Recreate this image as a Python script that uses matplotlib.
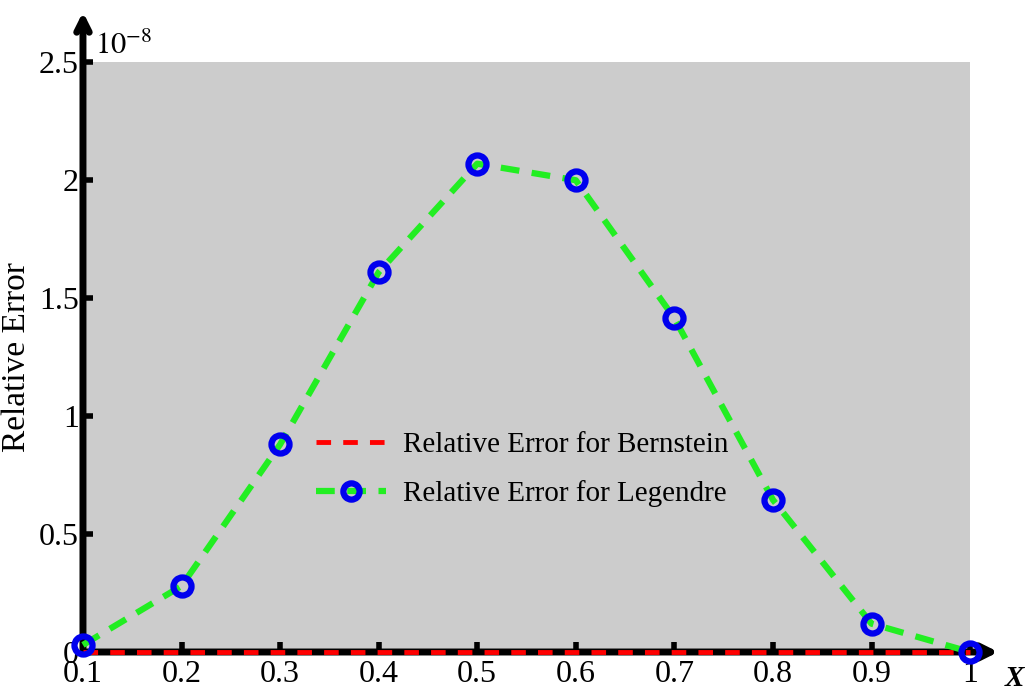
import matplotlib.pyplot as plt
from matplotlib.ticker import FuncFormatter

plt.rcParams["font.family"] = "Liberation Serif"
plt.rcParams["mathtext.fontset"] = "stix"

# Data (relative error, in units of 1e-8)
x_values = [0.1, 0.2, 0.3, 0.4, 0.5, 0.6, 0.7, 0.8, 0.9, 1.0]
bernstein_err = [0, 0, 0, 0, 0, 0, 0, 0, 0, 0]
legendre_err = [0.03, 0.28, 0.88, 1.61, 2.07, 2.00, 1.415, 0.645, 0.12, 0.0]
scale = 1e-8

x_ticks = [0.1, 0.2, 0.3, 0.4, 0.5, 0.6, 0.7, 0.8, 0.9, 1.0]
x_tick_labels = ["0.1", "0.2", "0.3", "0.4", "0.5", "0.6", "0.7", "0.8", "0.9", "1"]
y_ticks = [0, 0.5, 1, 1.5, 2, 2.5]

fig = plt.figure(figsize=(10.32, 6.92), dpi=100)
ax = fig.add_axes([0.0804, 0.0578, 0.8596, 0.8522])
ax.set_facecolor("#cccccc")

ax.plot(x_values, [v * scale for v in bernstein_err], color="red", linestyle=(0, (3, 2.5)),
        linewidth=3.5, label="Relative Error for Bernstein", zorder=5, clip_on=False)
ax.plot(x_values, [v * scale for v in legendre_err], color="#22ee22", linestyle=(0, (3, 2)),
        linewidth=4.5, marker="o", markersize=13, markeredgewidth=4.5,
        markeredgecolor="#0000ee", markerfacecolor="none",
        label="Relative Error for Legendre", zorder=6, clip_on=False)

ax.set_xlim(0.1, 1.0)
ax.set_ylim(0, 2.5 * scale)
ax.set_xticks(x_ticks)
ax.set_xticklabels(x_tick_labels)
ax.set_yticks([t * scale for t in y_ticks])
ax.yaxis.set_major_formatter(FuncFormatter(lambda v, p: f"{v / scale:g}"))

ax.tick_params(direction="in", length=7, width=4, labelsize=23, colors="black", pad=3)
ax.tick_params(axis="x", pad=6)

for side in ["top", "right", "left", "bottom"]:
    ax.spines[side].set_visible(False)

# Axes drawn as thick arrows
ax.annotate("", xy=(1.035, 0), xytext=(0, 0), xycoords="axes fraction",
            arrowprops=dict(arrowstyle="->,head_length=0.9,head_width=0.45", lw=5, color="black"),
            zorder=4, annotation_clip=False)
ax.annotate("", xy=(0, 1.09), xytext=(0, 0), xycoords="axes fraction",
            arrowprops=dict(arrowstyle="->,head_length=0.9,head_width=0.45", lw=5, color="black"),
            zorder=4, annotation_clip=False)

ax.text(0.014, 1.003, r"$10^{-8}$", transform=ax.transAxes, fontsize=22, va="bottom", ha="left")
ax.text(1.05, -0.045, "X", transform=ax.transAxes, fontsize=21, fontweight="bold",
        fontstyle="italic", ha="center", va="center")
ax.set_ylabel("Relative Error", fontsize=24)
ax.yaxis.set_label_coords(-0.058, 0.5)

ax.legend(loc="center", bbox_to_anchor=(0.495, 0.31), frameon=False, fontsize=21,
          handlelength=2.4, handletextpad=0.6, labelspacing=0.75, markerscale=0.9)

fig.savefig("out.png", dpi=100)
